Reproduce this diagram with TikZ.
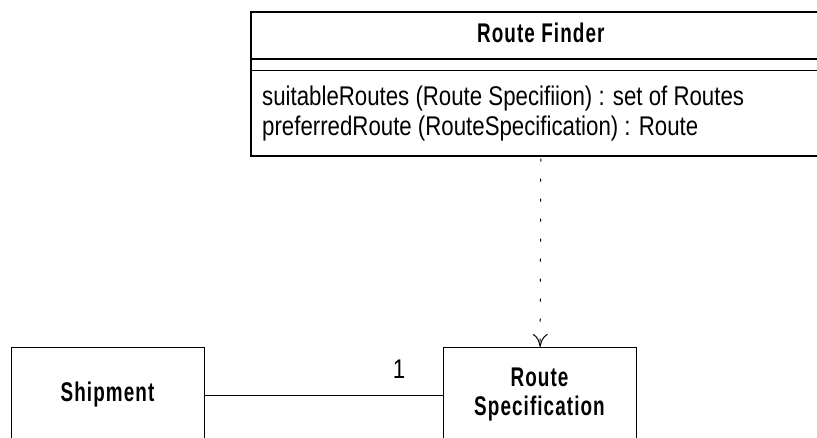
\documentclass[tikz,border=0pt]{standalone}
\usepackage{fontspec}
\setmainfont{Liberation Sans}[FakeStretch=0.824,BoldFeatures={FakeStretch=0.70,LetterSpace=4}]
\usetikzlibrary{arrows.meta}
\begin{document}
\begin{tikzpicture}[x=1pt,y=-1pt,
  txt/.style={inner sep=0pt,font=\fontsize{27}{30}\selectfont},
  ttl/.style={txt,font=\fontsize{27}{30}\selectfont\bfseries},
  cls/.style={draw,rectangle,inner sep=0pt,line width=1.6pt},
  assoc/.style={line width=0.9pt},
  dep/.style={line width=1pt,dash pattern=on 3pt off 17pt,dash phase=-2pt,
    -{Computer Modern Rightarrow[length=13pt,width=15pt,line width=1pt]}}]
\useasboundingbox (0,0) rectangle (817,438);
\clip (0,0) rectangle (817,438);
% Route Finder class
\node[cls,anchor=north west,minimum width=580pt,minimum height=144pt] (rf) at (250,11) {};
\coordinate (h1) at (250,59.3);
\coordinate (h2) at (250,70.7);
\draw[line width=1.6pt] (h1) -- (h1 -| rf.east);
\draw[line width=1.6pt] (h2) -- (h2 -| rf.east);
\node[ttl,anchor=base] (rft) at (rf.north |- 0,42.5) {Route Finder};
\node[txt,anchor=base west] (op1) at (262,105.5) {suitableRoutes (Route Specifiion) : set of Routes};
\node[txt,anchor=base west] (op2) at (262,136) {preferredRoute (RouteSpecification) : Route};
% Shipment
\node[cls,line width=1.3pt,anchor=north west,minimum width=193pt,minimum height=96pt] (ship) at (11,347) {};
\node[ttl,anchor=base] (shipt) at (107.5,402) {Shipment};
% Route Specification
\node[cls,line width=1.3pt,anchor=north west,minimum width=193pt,minimum height=96pt] (rs) at (443,347) {};
\node[ttl,anchor=base] (rst1) at (539.5,387) {Route};
\node[ttl,anchor=base] (rst2) at (539.5,415) {Specification};
% connectors
\draw[assoc] (ship.east) -- (rs.west);
\node[txt,anchor=base] (mult) at (399,378) {1};
\draw[dep] (rf.south) -- (rs.north);
\end{tikzpicture}
\end{document}
